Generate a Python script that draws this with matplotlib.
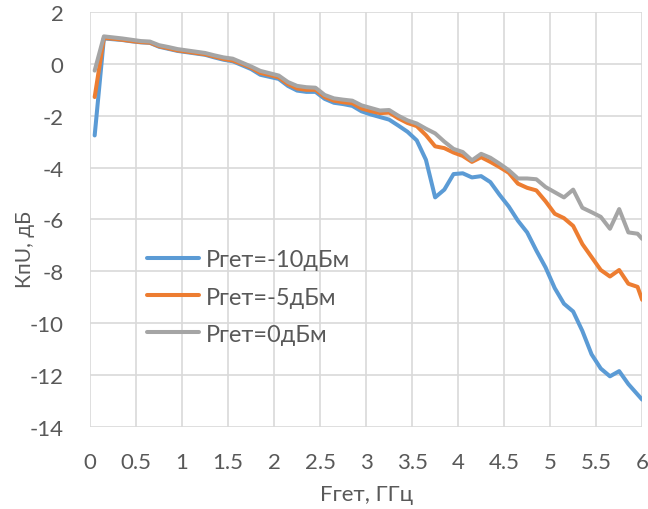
import matplotlib
matplotlib.use("Agg")
import matplotlib.pyplot as plt

# frequency grid, GHz
freq = [0.05, 0.15, 0.25, 0.35, 0.45, 0.55, 0.65, 0.75, 0.85, 0.95,
        1.05, 1.15, 1.25, 1.35, 1.45, 1.55, 1.65, 1.75, 1.85, 1.95,
        2.05, 2.15, 2.25, 2.35, 2.45, 2.55, 2.65, 2.75, 2.85, 2.95,
        3.05, 3.15, 3.25, 3.35, 3.45, 3.55, 3.65, 3.75, 3.85, 3.95,
        4.05, 4.15, 4.25, 4.35, 4.45, 4.55, 4.65, 4.75, 4.85, 4.95,
        5.05, 5.15, 5.25, 5.35, 5.45, 5.55, 5.65, 5.75, 5.85, 5.95, 6.0]

gain_m10 = [-2.76, 0.98, 0.95, 0.92, 0.87, 0.83, 0.81, 0.66, 0.58, 0.50,
            0.45, 0.40, 0.35, 0.25, 0.16, 0.10, -0.05, -0.20, -0.42, -0.50,
            -0.58, -0.85, -1.03, -1.08, -1.08, -1.35, -1.50, -1.55, -1.62, -1.83,
            -1.95, -2.05, -2.15, -2.38, -2.62, -2.95, -3.70, -5.15, -4.85, -4.25,
            -4.22, -4.38, -4.33, -4.56, -5.05, -5.50, -6.05, -6.50, -7.20, -7.85,
            -8.65, -9.25, -9.55, -10.30, -11.20, -11.75, -12.05, -11.85, -12.35, -12.75, -12.95]

gain_m5 = [-1.28, 1.00, 0.97, 0.93, 0.88, 0.84, 0.82, 0.68, 0.60, 0.52,
           0.47, 0.42, 0.37, 0.28, 0.19, 0.13, 0.00, -0.15, -0.35, -0.43,
           -0.52, -0.78, -0.95, -1.00, -1.00, -1.28, -1.42, -1.48, -1.52, -1.72,
           -1.82, -1.90, -1.88, -2.10, -2.28, -2.40, -2.75, -3.18, -3.25, -3.42,
           -3.55, -3.78, -3.60, -3.78, -3.98, -4.20, -4.62, -4.78, -4.88, -5.30,
           -5.78, -5.95, -6.25, -6.95, -7.45, -7.95, -8.20, -7.95, -8.48, -8.60, -9.10]

gain_0 = [-0.26, 1.06, 1.02, 0.98, 0.93, 0.88, 0.86, 0.72, 0.65, 0.57,
          0.52, 0.47, 0.42, 0.33, 0.25, 0.20, 0.05, -0.10, -0.27, -0.36,
          -0.45, -0.70, -0.85, -0.90, -0.92, -1.20, -1.33, -1.38, -1.42, -1.60,
          -1.70, -1.80, -1.78, -2.00, -2.18, -2.30, -2.50, -2.68, -3.00, -3.28,
          -3.40, -3.72, -3.47, -3.62, -3.85, -4.10, -4.42, -4.42, -4.45, -4.75,
          -4.95, -5.15, -4.85, -5.55, -5.72, -5.90, -6.36, -5.60, -6.50, -6.55, -6.75]

labels = ["Pгет=-10дБм", "Pгет=-5дБм", "Pгет=0дБм"]
colors = ["#5B9BD5", "#ED7D31", "#A5A5A5"]

plt.rcParams["font.family"] = ["Lato", "DejaVu Sans"]
text_color = "#595959"

fig, ax = plt.subplots(figsize=(6.48, 5.10), dpi=100)
fig.subplots_adjust(left=0.139, right=0.991, top=0.9745, bottom=0.161)

for ys, lab, col in zip([gain_m10, gain_m5, gain_0], labels, colors):
  ax.plot(freq, ys, color=col, lw=2.9, label=lab,
          solid_joinstyle="round", solid_capstyle="round")

ax.set_xlim(0, 6)
ax.set_ylim(-14, 2)
ax.set_xticks([i * 0.5 for i in range(13)])
ax.set_xticklabels(["0", "0.5", "1", "1.5", "2", "2.5", "3", "3.5",
                    "4", "4.5", "5", "5.5", "6"])
ax.set_yticks(range(-14, 3, 2))
ax.set_yticklabels([str(v) for v in range(-14, 3, 2)])

ax.grid(True, color="#D9D9D9", lw=1.2)
ax.set_axisbelow(True)
for s in ax.spines.values():
  s.set_visible(False)
ax.tick_params(length=0, labelsize=16, colors=text_color)
ax.tick_params(axis="x", pad=18)
ax.tick_params(axis="y", pad=19)

ax.set_xlabel("Fгет, ГГц", fontsize=16, color=text_color, labelpad=9)
ax.set_ylabel("КпU, дБ", fontsize=15, color=text_color)
ax.yaxis.set_label_coords(-0.1, 0.43)

leg = ax.legend(loc="center left", bbox_to_anchor=(0.103, 0.313), frameon=False,
                fontsize=17, handlelength=2.2, labelspacing=0.68,
                handletextpad=0.3, borderpad=0, borderaxespad=0)
for t in leg.get_texts():
  t.set_color(text_color)

fig.savefig("out.png", dpi=100)
